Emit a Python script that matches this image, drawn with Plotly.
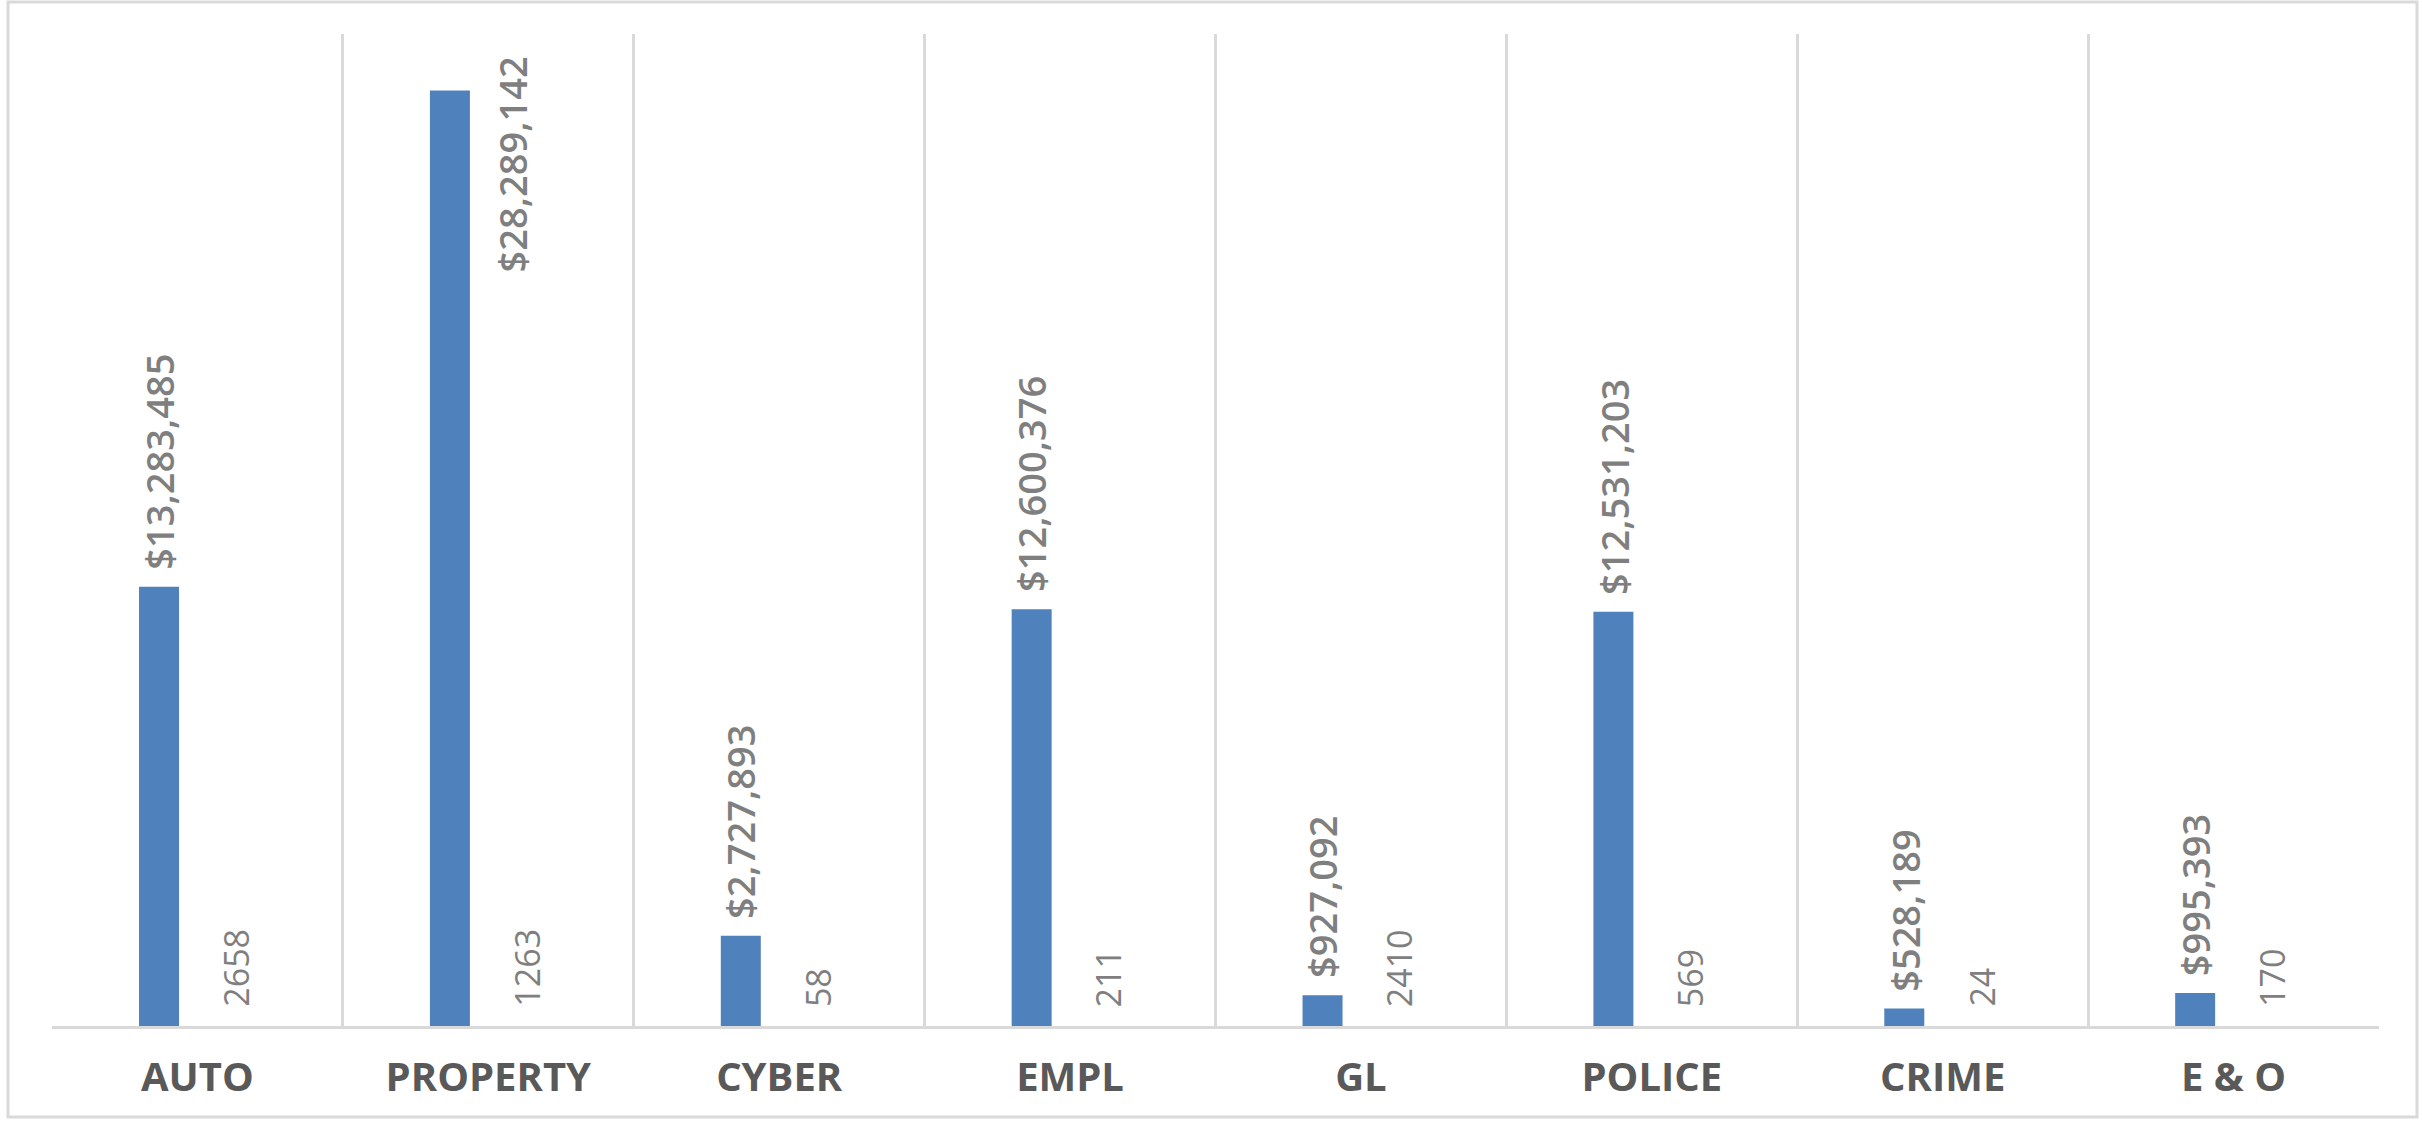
import plotly.graph_objects as go

# ---- data ----
categories = ["AUTO", "PROPERTY", "CYBER", "EMPL", "GL", "POLICE", "CRIME", "E & O"]
claim_amounts = [13283485, 28289142, 2727893, 12600376, 927092, 12531203, 528189, 995393]
claim_counts = [2658, 1263, 58, 211, 2410, 569, 24, 170]

# ---- layout constants ----
W, H = 2422, 1121
ML, MR, MT, MB = 52, 43, 34, 95
PLOT_W = W - ML - MR
PLOT_H = H - MT - MB
Y_MAX = 30_000_000
BAR_W = 0.1375          # bar width in category units
HALF = 0.132            # distance of each bar centre from category centre
GRID = "#d9d9d9"
BLUE = "#4f81bd"
LABEL_GRAY = "#7f7f7f"
CAT_GRAY = "#595959"
FONT = "Open Sans"
AMT_SIZE = 38
CNT_SIZE = 34
LABEL_GAP = 15          # px between bar end and label

fig = go.Figure()
fig.add_bar(x=categories, y=claim_amounts, width=BAR_W, offset=-HALF - BAR_W / 2,
            marker=dict(color=BLUE, line=dict(width=0)), name="Amount",
            hoverinfo="x+y")
# counts share the dollar axis, so their bars are negligibly small (invisible)
fig.add_bar(x=categories, y=claim_counts, width=BAR_W, offset=HALF - BAR_W / 2,
            marker=dict(color="rgba(192,80,77,0)", line=dict(width=0)), name="Count",
            hoverinfo="x+y")

annotations = []
for i, (amt, cnt) in enumerate(zip(claim_amounts, claim_counts)):
    txt = "${:,}".format(amt)
    # pixel room above the bar
    bar_top_px = amt / Y_MAX * PLOT_H
    need_px = len(txt) * 0.55 * AMT_SIZE + LABEL_GAP
    if bar_top_px + need_px <= PLOT_H:
        annotations.append(dict(
            x=i - HALF, y=amt, xref="x", yref="y", text=txt, textangle=-90,
            showarrow=False, xanchor="center", yanchor="bottom", yshift=LABEL_GAP,
            font=dict(family=FONT, size=AMT_SIZE, color=LABEL_GRAY, weight=600)))
    else:
        # not enough room above: place it beside the bar, hanging from the top
        annotations.append(dict(
            x=i - HALF, y=amt, xref="x", yref="y", text=txt, textangle=-90,
            showarrow=False, xanchor="center", yanchor="top", xshift=62, yshift=36,
            font=dict(family=FONT, size=AMT_SIZE, color=LABEL_GRAY, weight=600)))
    annotations.append(dict(
        x=i + HALF, y=cnt, xref="x", yref="y", text=str(cnt), textangle=-90,
        showarrow=False, xanchor="center", yanchor="bottom", yshift=LABEL_GAP + 2,
        font=dict(family=FONT, size=CNT_SIZE, color=LABEL_GRAY)))

# outer chart border (paper coords derived from pixel frame)
def px_to_paper_x(px):
    return (px - ML) / PLOT_W

def px_to_paper_y(py):
    return (H - MB - py) / PLOT_H

shapes = [dict(type="rect", xref="paper", yref="paper",
               x0=px_to_paper_x(8), x1=px_to_paper_x(2417),
               y0=px_to_paper_y(1117), y1=px_to_paper_y(2),
               line=dict(color=GRID, width=3), fillcolor="rgba(0,0,0,0)", layer="below")]

fig.update_layout(
    width=W, height=H,
    margin=dict(l=ML, r=MR, t=MT, b=MB, pad=0),
    paper_bgcolor="white", plot_bgcolor="white",
    barmode="overlay",
    showlegend=False,
    annotations=annotations,
    shapes=shapes,
    font=dict(family=FONT),
)
fig.update_xaxes(
    type="category", range=[-0.5, len(categories) - 0.5],
    tickson="boundaries", ticks="", showgrid=True, gridcolor=GRID, gridwidth=3,
    showline=True, linecolor=GRID, linewidth=3,
    tickfont=dict(family=FONT, size=40, color=CAT_GRAY, weight="bold"),
    ticklabelstandoff=14,
)
fig.update_yaxes(range=[0, Y_MAX], visible=False, showgrid=False, zeroline=False)

fig.write_html("out.html")
